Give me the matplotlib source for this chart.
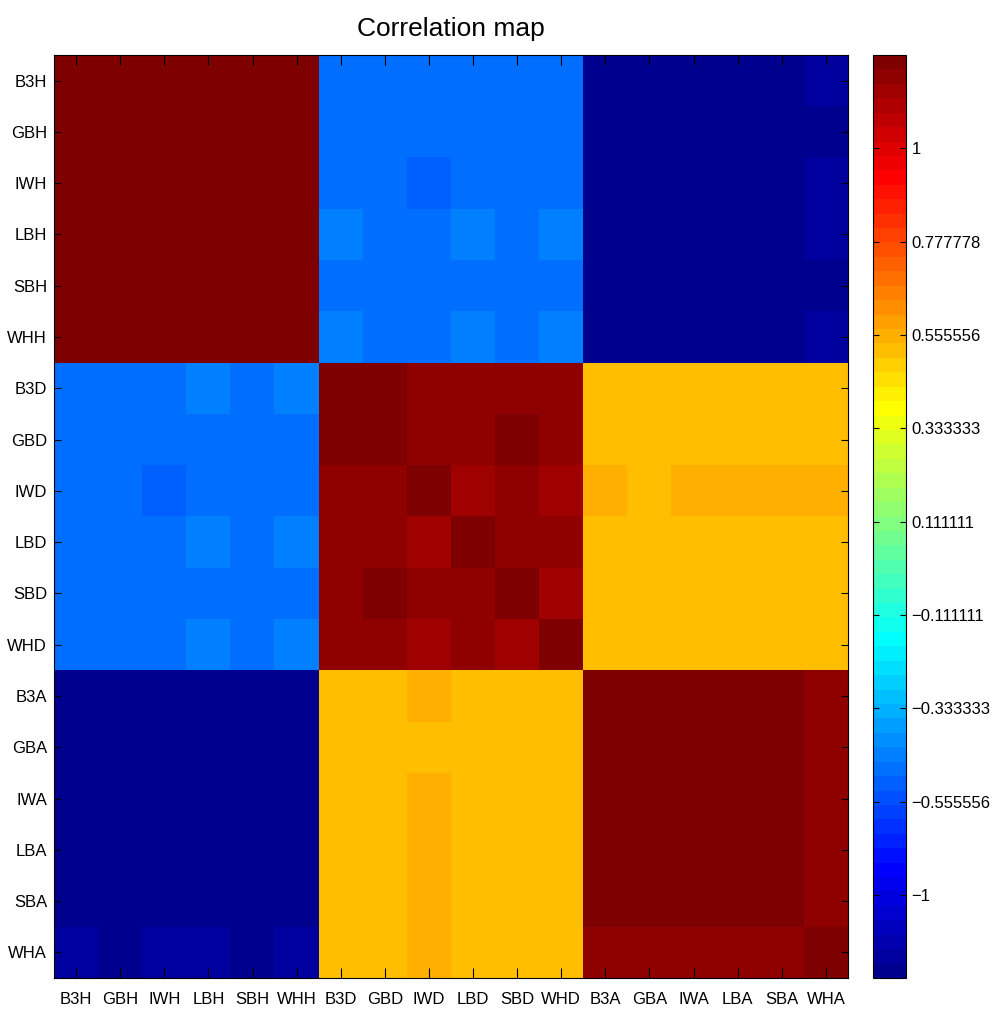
import numpy as np
import matplotlib.pyplot as plt
from matplotlib.colors import ListedColormap, Normalize

plt.rcParams['font.family'] = ['Liberation Sans', 'DejaVu Sans']

labels = ['B3H', 'GBH', 'IWH', 'LBH', 'SBH', 'WHH',
          'B3D', 'GBD', 'IWD', 'LBD', 'SBD', 'WHD',
          'B3A', 'GBA', 'IWA', 'LBA', 'SBA', 'WHA']

# blocks of the matrix, sites ordered B3, GB, IW, LB, SB, WH
hh = [[1.20] * 6 for _ in range(6)]
hd = [[-0.47, -0.47, -0.47, -0.47, -0.47, -0.47],
      [-0.47, -0.47, -0.47, -0.47, -0.47, -0.47],
      [-0.47, -0.47, -0.50, -0.47, -0.47, -0.47],
      [-0.44, -0.47, -0.47, -0.44, -0.47, -0.44],
      [-0.47, -0.47, -0.47, -0.47, -0.47, -0.47],
      [-0.44, -0.47, -0.47, -0.44, -0.47, -0.44]]
ha = [[-0.96, -0.96, -0.96, -0.96, -0.96, -0.92],
      [-0.96, -0.96, -0.96, -0.96, -0.96, -0.96],
      [-0.96, -0.96, -0.96, -0.96, -0.96, -0.92],
      [-0.96, -0.96, -0.96, -0.96, -0.96, -0.92],
      [-0.96, -0.96, -0.96, -0.96, -0.96, -0.96],
      [-0.96, -0.96, -0.96, -0.96, -0.96, -0.92]]
dd = [[1.20, 1.20, 1.16, 1.16, 1.16, 1.16],
      [1.20, 1.20, 1.16, 1.16, 1.20, 1.16],
      [1.16, 1.16, 1.20, 1.13, 1.16, 1.13],
      [1.16, 1.16, 1.13, 1.20, 1.16, 1.16],
      [1.16, 1.20, 1.16, 1.16, 1.20, 1.13],
      [1.16, 1.16, 1.13, 1.16, 1.13, 1.20]]
da = [[0.52, 0.52, 0.52, 0.52, 0.52, 0.52],
      [0.52, 0.52, 0.52, 0.52, 0.52, 0.52],
      [0.555, 0.52, 0.555, 0.555, 0.555, 0.555],
      [0.52, 0.52, 0.52, 0.52, 0.52, 0.52],
      [0.52, 0.52, 0.52, 0.52, 0.52, 0.52],
      [0.52, 0.52, 0.52, 0.52, 0.52, 0.52]]
aa = [[1.20, 1.20, 1.20, 1.20, 1.20, 1.16],
      [1.20, 1.20, 1.20, 1.20, 1.20, 1.16],
      [1.20, 1.20, 1.20, 1.20, 1.20, 1.16],
      [1.20, 1.20, 1.20, 1.20, 1.20, 1.16],
      [1.20, 1.20, 1.20, 1.20, 1.20, 1.16],
      [1.16, 1.16, 1.16, 1.16, 1.16, 1.20]]

cbar_ticks = [-7/9, -5/9, -3/9, -1/9, 1/9, 3/9, 5/9, 7/9, 1.0]
cbar_labels = ['\u22121', '\u22120.555556', '\u22120.333333', '\u22120.111111',
               '0.111111', '0.333333', '0.555556', '0.777778', '1']

hd, ha, da = np.array(hd), np.array(ha), np.array(da)
corr = np.block([[np.array(hh), hd, ha],
                 [hd.T, np.array(dd), da],
                 [ha.T, da.T, np.array(aa)]])

# 64-level jet, built the same way as the classic one
n = 16
u = np.concatenate([np.arange(1, n + 1) / n, np.ones(n - 1), np.arange(n, 0, -1) / n])
g = np.arange(len(u)) + 8
jet = np.zeros((64, 3))
for ch, idx in ((0, g + n), (1, g), (2, g - n)):
    ok = (idx >= 0) & (idx < 64)
    jet[idx[ok], ch] = u[ok]
cmap = ListedColormap(jet)
norm = Normalize(vmin=-0.975, vmax=1.2222)

fig = plt.figure(figsize=(9.93, 10.14), dpi=100)
ax = fig.add_axes([54 / 993, 36 / 1014, 794 / 993, 923 / 1014])
cax = fig.add_axes([873 / 993, 36 / 1014, 33 / 993, 923 / 1014])

im = ax.imshow(corr, cmap=cmap, norm=norm, aspect='auto', interpolation='nearest')
ax.set_xticks(range(len(labels)))
ax.set_xticklabels(labels)
ax.set_yticks(range(len(labels)))
ax.set_yticklabels(labels)
ax.tick_params(axis='x', direction='in', top=True, length=7, width=0.8, labelsize=12, pad=10)
ax.tick_params(axis='y', direction='in', right=True, length=5, width=0.8, labelsize=12, pad=5)
for s in ax.spines.values():
    s.set_linewidth(0.8)
ax.set_title('Correlation map', fontsize=19, pad=14)

cb = fig.colorbar(im, cax=cax)
cb.set_ticks(cbar_ticks)
cb.set_ticklabels(cbar_labels)
cb.outline.set_linewidth(0.8)
cax.tick_params(direction='in', left=True, right=True, length=4.5, width=0.8, labelsize=12, pad=4)

fig.savefig('out.png', dpi=100)
